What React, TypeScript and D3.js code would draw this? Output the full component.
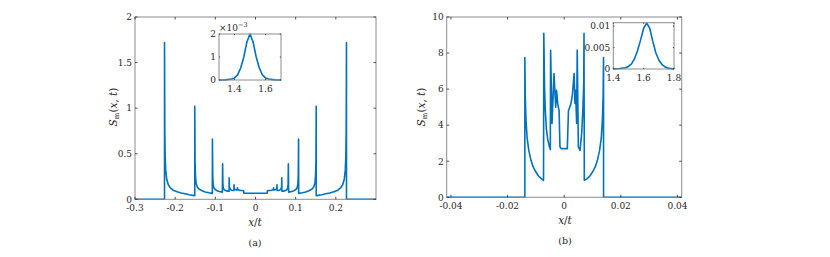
import * as d3 from "d3";

// panel (a): spectral function vs x/t
const curveA: [number, number][] = [
  [-0.3, 0], [-0.2265, 0], [-0.2265, 1.72], [-0.2258, 0.75], [-0.225, 0.48], [-0.2235, 0.32],
  [-0.221, 0.22], [-0.217, 0.16], [-0.212, 0.125], [-0.205, 0.1], [-0.195, 0.083], [-0.185, 0.07],
  [-0.175, 0.06], [-0.165, 0.05], [-0.152, 0.04],
  [-0.1512, 0.04], [-0.1512, 1.02], [-0.1505, 0.42], [-0.1495, 0.26], [-0.148, 0.18], [-0.145, 0.135],
  [-0.14, 0.11], [-0.133, 0.093], [-0.125, 0.08], [-0.116, 0.071], [-0.1075, 0.065],
  [-0.1072, 0.66], [-0.1065, 0.27], [-0.1055, 0.17], [-0.104, 0.13], [-0.101, 0.11], [-0.096, 0.095],
  [-0.09, 0.085], [-0.0825, 0.078],
  [-0.0818, 0.39], [-0.0812, 0.17], [-0.0802, 0.125], [-0.078, 0.105], [-0.074, 0.095], [-0.069, 0.09],
  [-0.0658, 0.088],
  [-0.0655, 0.235], [-0.0649, 0.135], [-0.063, 0.11], [-0.06, 0.1], [-0.0565, 0.097], [-0.0538, 0.096],
  [-0.0535, 0.16], [-0.053, 0.12], [-0.051, 0.107], [-0.0475, 0.103], [-0.0455, 0.102], [-0.045, 0.125],
  [-0.0445, 0.11], [-0.042, 0.102], [-0.038, 0.098], [-0.034, 0.096], [-0.0295, 0.094],
  [-0.0292, 0.068], [-0.02, 0.067], [-0.01, 0.066], [0, 0.066], [0.01, 0.066], [0.02, 0.067], [0.0292, 0.068],
  [0.0295, 0.094], [0.034, 0.096], [0.038, 0.098], [0.042, 0.102], [0.0445, 0.11], [0.045, 0.125],
  [0.0455, 0.102], [0.0475, 0.103], [0.051, 0.107], [0.053, 0.12], [0.0535, 0.16],
  [0.0538, 0.096], [0.0565, 0.097], [0.06, 0.1], [0.063, 0.11], [0.0649, 0.135], [0.0655, 0.235],
  [0.0658, 0.088], [0.069, 0.09], [0.074, 0.095], [0.078, 0.105], [0.0802, 0.125], [0.0812, 0.17], [0.0818, 0.39],
  [0.0825, 0.078], [0.09, 0.085], [0.096, 0.095], [0.101, 0.11], [0.104, 0.13], [0.1055, 0.17], [0.1065, 0.27],
  [0.1072, 0.66],
  [0.1075, 0.065], [0.116, 0.071], [0.125, 0.08], [0.133, 0.093], [0.14, 0.11], [0.145, 0.135], [0.148, 0.18],
  [0.1495, 0.26], [0.1505, 0.42], [0.1512, 1.02],
  [0.1512, 0.04], [0.152, 0.04], [0.165, 0.05], [0.175, 0.06], [0.185, 0.07], [0.195, 0.083], [0.205, 0.1],
  [0.212, 0.125], [0.217, 0.16], [0.221, 0.22], [0.2235, 0.32], [0.225, 0.48], [0.2258, 0.75], [0.2265, 1.72],
  [0.2265, 0], [0.3, 0],
];

// panel (b)
const curveB: [number, number][] = [
  [-0.0415, 0], [-0.0139, 0], [-0.0139, 7.75], [-0.01375, 5.6], [-0.0135, 4.3], [-0.0131, 3.3],
  [-0.0125, 2.6], [-0.0118, 2.1], [-0.011, 1.7], [-0.01, 1.4], [-0.009, 1.17], [-0.008, 1.02], [-0.0073, 0.94],
  [-0.0072, 9.1], [-0.00695, 6.2], [-0.0067, 4.9], [-0.0063, 3.8], [-0.0058, 3.2], [-0.0053, 2.85], [-0.0049, 2.65],
  [-0.0048, 8.15], [-0.0043, 4.1], [-0.0036, 6.87], [-0.003, 5.0], [-0.0027, 5.94], [-0.0023, 5.2],
  [-0.0018, 4.8], [-0.0015, 2.8], [-0.0011, 2.7], [0, 2.7], [0.0011, 2.7], [0.0015, 4.8], [0.0024, 5.2],
  [0.0029, 5.7], [0.0035, 6.87], [0.0038, 5.2], [0.004, 5.94], [0.0044, 4.1], [0.0046, 8.16],
  [0.005, 2.8], [0.0056, 2.6], [0.0062, 3.6], [0.0066, 4.9], [0.0069, 6.3], [0.007, 9.1],
  [0.0071, 0.94], [0.008, 1.02], [0.009, 1.17], [0.01, 1.4], [0.011, 1.7], [0.0118, 2.1], [0.0125, 2.6],
  [0.0131, 3.3], [0.0135, 4.3], [0.01375, 5.6], [0.0139, 7.75], [0.0139, 0], [0.0415, 0],
];

// insets (inset a values in units of 1e-3)
const insetA: [number, number][] = [
  [1.3, 0], [1.34, 0.005], [1.38, 0.04], [1.4, 0.09], [1.42, 0.22], [1.44, 0.52], [1.46, 1.0],
  [1.48, 1.65], [1.5, 2.0], [1.52, 1.65], [1.54, 1.0], [1.56, 0.52], [1.58, 0.22], [1.6, 0.09],
  [1.62, 0.04], [1.66, 0.005], [1.7, 0],
];
const insetB: [number, number][] = [
  [1.4, 0], [1.44, 0.0001], [1.48, 0.0003], [1.5, 0.0006], [1.52, 0.0012], [1.54, 0.0024], [1.56, 0.0043],
  [1.58, 0.0068], [1.6, 0.0095], [1.62, 0.0107], [1.64, 0.0095], [1.66, 0.0065], [1.68, 0.0038],
  [1.7, 0.0021], [1.72, 0.0011], [1.74, 0.0005], [1.76, 0.0002], [1.8, 0],
];

const ticksAX = [-0.3, -0.2, -0.1, 0, 0.1, 0.2];
const ticksAY = [0, 0.5, 1, 1.5, 2];
const ticksBX = [-0.04, -0.02, 0, 0.02, 0.04];
const ticksBY = [0, 2, 4, 6, 8, 10];
const ticksInAX = [1.4, 1.6];
const ticksInAY = [0, 1, 2];
const ticksInBX = [1.4, 1.6, 1.8];
const ticksInBY = [0, 0.005, 0.01];

const BLUE = "#0072BD";
const BOX = "#8c8c8c";
const TXT = "#262626";
const FONT = "'DejaVu Serif', 'Liberation Serif', serif";

type AxProps = {
  id: string;
  box: [number, number, number, number]; // left, top, right, bottom
  xDomain: [number, number];
  yDomain: [number, number];
  xTicks: number[];
  yTicks: number[];
  data: [number, number][];
  tick: number;
  lw: number;
  xLabelDy?: number;
};

function Axes({ id, box, xDomain, yDomain, xTicks, yTicks, data, tick, lw, xLabelDy = 12 }: AxProps) {
  const [l, t, r, b] = box;
  const x = d3.scaleLinear().domain(xDomain).range([l, r]);
  const y = d3.scaleLinear().domain(yDomain).range([b, t]);
  const line = d3
    .line<[number, number]>()
    .x((d) => x(d[0]))
    .y((d) => y(d[1]));
  return (
    <g>
      <defs>
        <clipPath id={id}>
          <rect x={l} y={t - 1} width={r - l} height={b - t + 2} />
        </clipPath>
      </defs>
      <rect x={l} y={t} width={r - l} height={b - t} fill="#fff" />
      <path d={line(data) ?? ""} fill="none" stroke={BLUE} strokeWidth={lw} clipPath={`url(#${id})`} strokeLinejoin="round" />
      <rect x={l} y={t} width={r - l} height={b - t} fill="none" stroke={BOX} strokeWidth={1} />
      {xTicks.map((v) => (
        <g key={"x" + v}>
          <line x1={x(v)} x2={x(v)} y1={b} y2={b - tick} stroke={TXT} strokeWidth={0.8} />
          <line x1={x(v)} x2={x(v)} y1={t} y2={t + tick} stroke={TXT} strokeWidth={0.8} />
          <text x={x(v)} y={b + xLabelDy} textAnchor="middle" fontSize={9} fill={TXT} fontFamily={FONT}>
            {String(v)}
          </text>
        </g>
      ))}
      {yTicks.map((v) => (
        <g key={"y" + v}>
          <line x1={l} x2={l + tick} y1={y(v)} y2={y(v)} stroke={TXT} strokeWidth={0.8} />
          <line x1={r} x2={r - tick} y1={y(v)} y2={y(v)} stroke={TXT} strokeWidth={0.8} />
          <text x={l - 3} y={y(v) + 3.3} textAnchor="end" fontSize={9} fill={TXT} fontFamily={FONT}>
            {String(v)}
          </text>
        </g>
      ))}
    </g>
  );
}

function YLabel({ cx, cy }: { cx: number; cy: number }) {
  return (
    <text
      transform={`translate(${cx},${cy}) rotate(-90)`}
      textAnchor="middle"
      fontSize={10.5}
      fill={TXT}
      fontFamily={FONT}
      dy={4}
    >
      <tspan fontStyle="italic">S</tspan>
      <tspan fontSize={7} dy={2}>m</tspan>
      <tspan dy={-2}>(</tspan>
      <tspan fontStyle="italic">x</tspan>
      <tspan>, </tspan>
      <tspan fontStyle="italic">t</tspan>
      <tspan>)</tspan>
    </text>
  );
}

function XLabel({ cx, y }: { cx: number; y: number }) {
  return (
    <text x={cx} y={y} textAnchor="middle" fontSize={10.5} fill={TXT} fontFamily={FONT}>
      <tspan fontStyle="italic">x</tspan>
      <tspan>/</tspan>
      <tspan fontStyle="italic">t</tspan>
    </text>
  );
}

export default function App() {
  return (
    <div style={{ position: "fixed", left: 0, top: 0 }}>
      <svg width={830} height={257} style={{ display: "block", background: "#fff" }}>
        {/* panel a */}
        <Axes id="ca" box={[135, 17, 376, 199.3]} xDomain={[-0.3, 0.3]} yDomain={[0, 2]}
          xTicks={ticksAX} yTicks={ticksAY} data={curveA} tick={2.5} lw={1.6} />
        <YLabel cx={113} cy={107} />
        <XLabel cx={255} y={226} />
        <text x={255} y={246} textAnchor="middle" fontSize={9.5} fill={TXT} fontFamily={FONT}>(a)</text>
        <Axes id="ia" box={[219, 34, 281, 80]} xDomain={[1.3, 1.7]} yDomain={[0, 2]}
          xTicks={ticksInAX} yTicks={ticksInAY} data={insetA} tick={1.2} lw={1.6} />
        <text x={219} y={31} fontSize={9} fill={TXT} fontFamily={FONT}>
          ×10<tspan fontSize={6.5} dy={-4}>−3</tspan>
        </text>

        {/* panel b */}
        <Axes id="cb" box={[446.7, 17, 681.7, 197.3]} xDomain={[-0.0415, 0.0415]} yDomain={[0, 10]}
          xTicks={ticksBX} yTicks={ticksBY} data={curveB} tick={2.5} lw={1.6} />
        <YLabel cx={421} cy={107} />
        <XLabel cx={565} y={224} />
        <text x={565} y={244} textAnchor="middle" fontSize={9.5} fill={TXT} fontFamily={FONT}>(b)</text>
        <Axes id="ib" box={[613.3, 22.7, 674, 69]} xDomain={[1.4, 1.8]} yDomain={[0, 0.0108]}
          xTicks={ticksInBX} yTicks={ticksInBY} data={insetB} tick={1.2} lw={1.6} />
      </svg>
    </div>
  );
}
